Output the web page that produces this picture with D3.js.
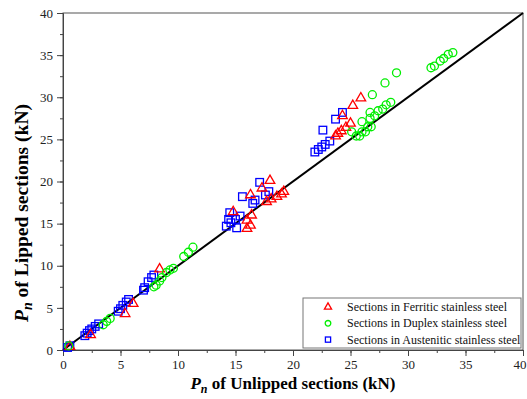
<!DOCTYPE html>
<html lang="en">
  <head>
    <meta charset="UTF-8" />
    <title>Pn Lipped vs Unlipped</title>
    <script src="https://d3js.org/d3.v7.min.js"></script>
    <style>
      body { margin: 0; background: #fff; }
      text { font-family: "Liberation Serif", "Times New Roman", serif; }
    </style>
  </head>
  <body>
    <svg width="527" height="399"></svg>
    <script>
      // Ferritic (triangles)
      const ferriticX = [0.6, 2.4, 5.4, 6.1, 8.4, 14.8, 16.0, 16.3, 16.0, 16.4, 16.3, 17.3, 18.0, 17.7, 18.1, 18.6, 19.0, 19.2,
        23.7, 23.9, 24.2, 24.6, 25.0, 24.3, 25.2, 25.9];
      const ferriticY = [0.4, 1.8, 4.3, 5.5, 9.6, 16.4, 14.4, 14.8, 15.4, 16.0, 18.4, 19.2, 20.1, 17.6, 17.9, 18.2, 18.5, 18.8,
        25.4, 25.7, 26.0, 26.4, 26.9, 27.8, 29.0, 29.9];
      // Duplex (circles)
      const duplexX = [0.5, 3.5, 3.8, 4.1, 7.9, 8.1, 8.4, 8.6, 9.0, 9.3, 9.6, 10.5, 10.9, 11.3,
        25.1, 25.5, 25.8, 26.0, 26.3, 26.5, 26.8, 26.0, 26.7, 27.1, 26.7, 27.4, 27.8, 28.1, 28.5, 26.9, 28.0, 29.0,
        32.0, 32.3, 32.8, 33.1, 33.5, 33.9];
      const duplexY = [0.5, 3.0, 3.4, 3.75, 7.5, 7.7, 8.2, 8.6, 9.2, 9.5, 9.7, 11.1, 11.6, 12.2,
        25.9, 25.4, 25.4, 25.9, 25.9, 26.5, 26.5, 27.1, 27.5, 27.8, 28.2, 28.4, 28.6, 29.1, 29.4, 30.3, 31.7, 32.9,
        33.5, 33.7, 34.3, 34.6, 35.1, 35.3];
      // Austenitic (squares)
      const austeniticX = [0.4, 0.6, 1.9, 2.1, 2.3, 2.5, 2.8, 3.1, 4.8, 5.0, 5.2, 5.5, 5.7, 7.0, 7.1, 7.4, 7.7, 7.9,
        14.2, 14.4, 14.5, 14.6, 15.0, 15.1, 15.4, 15.6, 16.5, 16.7, 17.1, 17.6, 17.9,
        21.9, 22.2, 22.5, 22.8, 23.2, 22.6, 23.7, 24.3];
      const austeniticY = [0.3, 0.5, 1.7, 2.0, 2.3, 2.5, 2.8, 3.1, 4.6, 4.9, 5.3, 5.7, 6.0, 7.1, 7.4, 8.1, 8.6, 8.9,
        14.7, 15.5, 16.3, 15.1, 15.5, 14.5, 15.9, 18.2, 17.4, 17.8, 19.9, 18.4, 18.8,
        23.5, 23.8, 24.1, 24.4, 24.8, 26.1, 27.4, 28.2];
      const majorTicks = [0, 5, 10, 15, 20, 25, 30, 35, 40];
      const legendLabels = [
        "Sections in Ferritic stainless steel",
        "Sections in Duplex stainless steel",
        "Sections in Austenitic stainless steel"
      ];

      const svg = d3.select("svg");
      const margin = { top: 13, right: 4, bottom: 49, left: 63 };
      const width = +svg.attr("width") - margin.left - margin.right;
      const height = +svg.attr("height") - margin.top - margin.bottom;
      const g = svg.append("g")
        .attr("transform", "translate(" + margin.left + "," + margin.top + ")");

      const x = d3.scaleLinear().domain([0, 40]).range([0, width]);
      const y = d3.scaleLinear().domain([0, 40]).range([height, 0]);
      const minor = d3.range(0, 40.1, 2.5);

      // frame
      g.append("rect").attr("width", width).attr("height", height)
        .attr("fill", "none").attr("stroke", "#555").attr("stroke-width", 1);

      // minor ticks
      g.append("g").attr("transform", "translate(0," + height + ")")
        .call(d3.axisBottom(x).tickValues(minor).tickSize(3).tickFormat(""))
        .call(a => a.select(".domain").remove())
        .selectAll("line").attr("stroke", "#444");
      g.append("g")
        .call(d3.axisLeft(y).tickValues(minor).tickSize(3).tickFormat(""))
        .call(a => a.select(".domain").remove())
        .selectAll("line").attr("stroke", "#444");

      const xAxis = g.append("g").attr("transform", "translate(0," + height + ")")
        .call(d3.axisBottom(x).tickValues(majorTicks).tickSize(6).tickPadding(4));
      const yAxis = g.append("g")
        .call(d3.axisLeft(y).tickValues(majorTicks).tickSize(6).tickPadding(4));
      [xAxis, yAxis].forEach(a => {
        a.select(".domain").attr("stroke", "#444");
        a.selectAll("line").attr("stroke", "#444");
        a.selectAll("text").attr("font-family", "Liberation Serif").attr("font-size", 13).attr("fill", "#222");
      });
      // keep the last x label inside the page
      xAxis.selectAll("text").filter(d => d === 40).attr("text-anchor", "end").attr("dx", 3);

      // y = x line
      g.append("path")
        .datum([0, 40])
        .attr("fill", "none").attr("stroke", "#000").attr("stroke-width", 2)
        .attr("d", d3.line().x(d => x(d)).y(d => y(d)));

      const stroke = 1.3;
      const tri = d3.symbol().type(d3.symbolTriangle).size(40);

      // squares
      g.append("g").selectAll("rect")
        .data(d3.zip(austeniticX, austeniticY))
        .join("rect")
        .attr("x", d => x(d[0]) - 3.8).attr("y", d => y(d[1]) - 3.8)
        .attr("width", 7.6).attr("height", 7.6)
        .attr("fill", "none").attr("stroke", "#0000ff").attr("stroke-width", stroke);

      g.append("g").selectAll("path")
        .data(d3.zip(ferriticX, ferriticY))
        .join("path")
        .attr("d", tri)
        .attr("transform", d => "translate(" + x(d[0]) + "," + y(d[1]) + ")")
        .attr("fill", "none").attr("stroke", "#ff0000").attr("stroke-width", stroke);

      g.append("g").selectAll("circle")
        .data(d3.zip(duplexX, duplexY))
        .join("circle")
        .attr("cx", d => x(d[0])).attr("cy", d => y(d[1])).attr("r", 4)
        .attr("fill", "none").attr("stroke", "#00ee00").attr("stroke-width", stroke);

      // axis titles
      const xt = svg.append("text")
        .attr("x", margin.left + width / 2).attr("y", 389)
        .attr("text-anchor", "middle").attr("font-size", 17).attr("font-weight", "bold");
      xt.append("tspan").attr("font-style", "italic").text("P");
      xt.append("tspan").attr("font-style", "italic").attr("font-size", 12).attr("dy", 4).text("n");
      xt.append("tspan").attr("dy", -4).text(" of Unlipped sections (kN)");

      const yt = svg.append("text")
        .attr("transform", "translate(28,213) rotate(-90)")
        .attr("text-anchor", "middle").attr("font-size", 19.5).attr("font-weight", "bold");
      yt.append("tspan").attr("font-style", "italic").text("P");
      yt.append("tspan").attr("font-style", "italic").attr("font-size", 14).attr("dy", 4).text("n");
      yt.append("tspan").attr("dy", -4).text(" of Lipped sections (kN)");

      // legend
      const lg = svg.append("g").attr("transform", "translate(303,298)");
      lg.append("rect").attr("width", 218).attr("height", 50)
        .attr("fill", "#fff").attr("stroke", "#777").attr("stroke-width", 1);
      legendLabels.forEach((label, i) => {
        const cy = 9 + i * 16.3;
        const mk = lg.append("g").attr("transform", "translate(25," + cy + ")");
        if (i === 0) mk.append("path").attr("d", d3.symbol().type(d3.symbolTriangle).size(22))
          .attr("fill", "none").attr("stroke", "#ff0000").attr("stroke-width", 1.3);
        if (i === 1) mk.append("circle").attr("r", 2.8)
          .attr("fill", "none").attr("stroke", "#00ee00").attr("stroke-width", 1.3);
        if (i === 2) mk.append("rect").attr("x", -2.6).attr("y", -2.6).attr("width", 5.2).attr("height", 5.2)
          .attr("fill", "none").attr("stroke", "#0000ff").attr("stroke-width", 1.3);
        lg.append("text").attr("x", 44).attr("y", cy + 4)
          .attr("font-size", 12).attr("fill", "#111").text(label);
      });
    </script>
  </body>
</html>
